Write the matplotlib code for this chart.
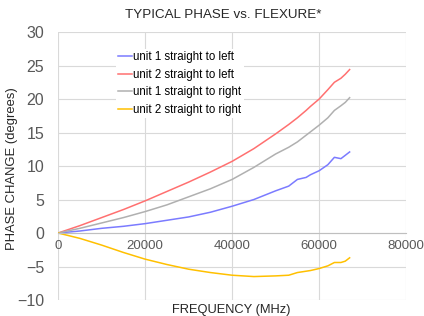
import matplotlib
matplotlib.use('Agg')
import matplotlib.pyplot as plt

plt.rcParams['font.family'] = ['Liberation Sans', 'DejaVu Sans']

# frequency points (MHz)
freq = [0, 5000, 10000, 15000, 20000, 25000, 30000, 35000, 40000, 45000, 50000,
        53000, 55000, 57000, 58000, 60000, 62000, 63500, 65000, 66000, 67000]

unit1_left = [0, 0.3, 0.7, 1.0, 1.4, 1.9, 2.4, 3.1, 4.0, 5.0, 6.3,
              7.0, 8.0, 8.3, 8.7, 9.3, 10.2, 11.3, 11.1, 11.6, 12.1]
unit2_left = [0, 1.1, 2.3, 3.5, 4.8, 6.2, 7.6, 9.1, 10.7, 12.6, 14.8,
              16.2, 17.2, 18.3, 18.9, 20.0, 21.4, 22.5, 23.1, 23.7, 24.4]
unit1_right = [0, 0.7, 1.5, 2.3, 3.2, 4.2, 5.4, 6.6, 8.0, 9.8, 11.8,
               12.8, 13.6, 14.6, 15.1, 16.1, 17.2, 18.3, 19.0, 19.5, 20.2]
unit2_right = [0, -0.8, -1.8, -2.9, -3.9, -4.7, -5.4, -5.9, -6.3, -6.5, -6.4,
               -6.3, -5.9, -5.7, -5.6, -5.3, -4.9, -4.4, -4.4, -4.2, -3.7]

labels = ['unit 1 straight to left', 'unit 2 straight to left',
          'unit 1 straight to right', 'unit 2 straight to right']
colors = ['#7b7bff', '#ff7070', '#b0b0b0', '#ffc000']

fig = plt.figure(figsize=(4.24, 3.16), dpi=100)
ax = fig.add_axes([0.137, 0.0506, 0.821, 0.848])

for ys, lab, c in zip([unit1_left, unit2_left, unit1_right, unit2_right], labels, colors):
    ax.plot(freq, ys, color=c, lw=1.1, label=lab)

ax.set_xlim(0, 80000)
ax.set_ylim(-10, 30)
ax.set_xticks(range(0, 80001, 20000))
ax.set_yticks(range(-10, 31, 5))
ax.grid(True, color='#d9d9d9', lw=0.8)
ax.set_axisbelow(True)

for s in ['top', 'right', 'left']:
    ax.spines[s].set_visible(False)
ax.spines['bottom'].set_position(('data', 0))
ax.spines['bottom'].set_color('#bfbfbf')
ax.tick_params(length=0, labelcolor='#595959')
ax.tick_params(axis='x', labelsize=9.5, pad=5)
ax.tick_params(axis='y', labelsize=11.5, pad=10)

fig.text(223 / 424, 1 - 15 / 316, 'TYPICAL PHASE vs. FLEXURE*', fontsize=9.6,
         color='#262626', ha='center', va='center')
ax.set_ylabel('PHASE CHANGE (degrees)', fontsize=9.4, color='#262626')
ax.yaxis.set_label_coords(-0.115, 0.49)
fig.text(0.546, 1 - 304 / 316, 'FREQUENCY (MHz)', fontsize=9.3, color='#262626',
         ha='center', va='top')

leg = ax.legend(loc='upper left', bbox_to_anchor=(0.15, 0.96), frameon=True, fontsize=8.3,
                handlelength=1.2, handletextpad=0.1, labelspacing=0.5, borderpad=0.2)
leg.get_frame().set_edgecolor('none')
leg.get_frame().set_facecolor('white')
leg.get_frame().set_alpha(1)

fig.savefig('out.png', dpi=100)
